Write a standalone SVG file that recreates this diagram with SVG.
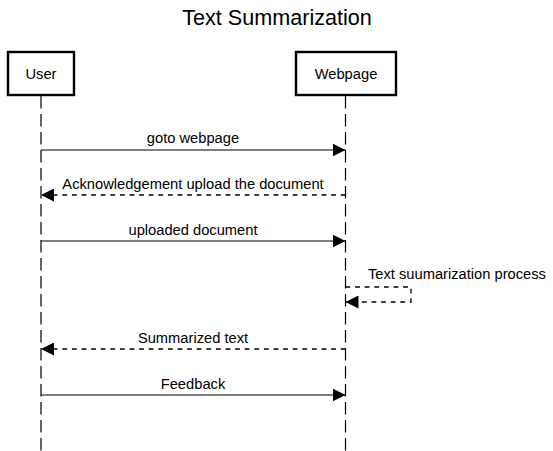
<svg xmlns="http://www.w3.org/2000/svg" width="553" height="451" viewBox="0 0 553 451">
<style>
text { font-family: "Liberation Sans", Arial, sans-serif; fill: #000; font-size: 14.7px; }
.box { fill: #fff; stroke: #000; stroke-width: 2.4; }
.life { stroke: #000; stroke-width: 1.2; stroke-dasharray: 12.6 5.4; fill: none; }
.msg { stroke: #000; stroke-width: 1.2; fill: none; }
.ret { stroke: #000; stroke-width: 1.3; fill: none; stroke-dasharray: 4.8 4.8; }
</style>
<defs>
<marker id="ah" viewBox="0 0 13 13" refX="13" refY="6.5" markerWidth="13" markerHeight="13" markerUnits="userSpaceOnUse" orient="auto">
<path d="M0,0 L13,6.5 L0,13 Z" fill="#000"/>
</marker>
</defs>
<rect width="553" height="451" fill="#fff"/>
<text x="277" y="25" text-anchor="middle" style="font-size:21.6px">Text Summarization</text>
<g id="user">
<line class="life" x1="41" y1="96" x2="41" y2="451"/>
<rect class="box" x="8" y="52" width="66" height="43"/>
<text x="41" y="79" text-anchor="middle">User</text>
</g>
<g id="webpage">
<line class="life" x1="345.5" y1="96" x2="345.5" y2="451"/>
<rect class="box" x="296" y="52" width="100" height="43"/>
<text x="346" y="79" text-anchor="middle">Webpage</text>
</g>
<g id="connectors">
<line class="msg" x1="41" y1="150" x2="345.5" y2="150" marker-end="url(#ah)"/>
<text x="193" y="143" text-anchor="middle">goto webpage</text>
<line class="ret" x1="345.5" y1="195" x2="41" y2="195" marker-end="url(#ah)"/>
<text x="193" y="189" text-anchor="middle">Acknowledgement upload the document</text>
<line class="msg" x1="41" y1="241" x2="345.5" y2="241" marker-end="url(#ah)"/>
<text x="193" y="235" text-anchor="middle">uploaded document</text>
<path class="ret" d="M345.5,287 L411,287 L411,302 L345.5,302" marker-end="url(#ah)"/>
<text x="368" y="279">Text suumarization process</text>
<line class="ret" x1="345.5" y1="349" x2="41" y2="349" marker-end="url(#ah)"/>
<text x="193" y="343" text-anchor="middle">Summarized text</text>
<line class="msg" x1="41" y1="395" x2="345.5" y2="395" marker-end="url(#ah)"/>
<text x="193" y="389" text-anchor="middle">Feedback</text>
</g>
</svg>
